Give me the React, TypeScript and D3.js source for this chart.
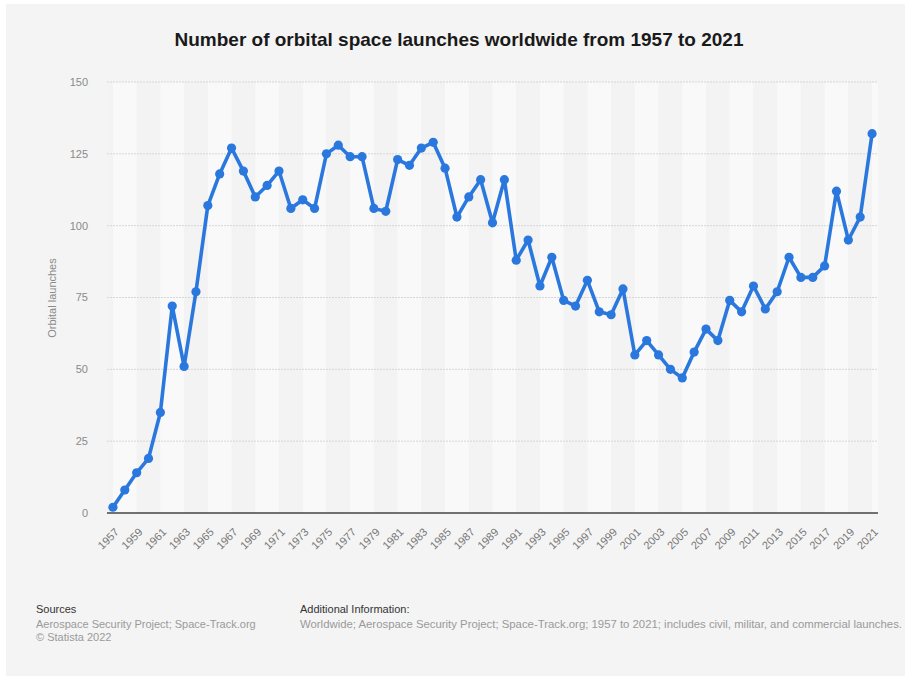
import React from "react";
import * as d3 from "d3";

const years: number[] = [
  1957, 1958, 1959, 1960, 1961, 1962, 1963, 1964, 1965, 1966, 1967, 1968, 1969, 1970,
  1971, 1972, 1973, 1974, 1975, 1976, 1977, 1978, 1979, 1980, 1981, 1982, 1983, 1984,
  1985, 1986, 1987, 1988, 1989, 1990, 1991, 1992, 1993, 1994, 1995, 1996, 1997, 1998,
  1999, 2000, 2001, 2002, 2003, 2004, 2005, 2006, 2007, 2008, 2009, 2010, 2011, 2012,
  2013, 2014, 2015, 2016, 2017, 2018, 2019, 2020, 2021,
];
const launches: number[] = [
  2, 8, 14, 19, 35, 72, 51, 77, 107, 118, 127, 119, 110, 114,
  119, 106, 109, 106, 125, 128, 124, 124, 106, 105, 123, 121, 127, 129,
  120, 103, 110, 116, 101, 116, 88, 95, 79, 89, 74, 72, 81, 70,
  69, 78, 55, 60, 55, 50, 47, 56, 64, 60, 74, 70, 79, 71,
  77, 89, 82, 82, 86, 112, 95, 103, 132,
];
const yTicks: number[] = [0, 25, 50, 75, 100, 125, 150];
const title = "Number of orbital space launches worldwide from 1957 to 2021";
const yLabel = "Orbital launches";
const sourcesTitle = "Sources";
const sourcesLines: string[] = ["Aerospace Security Project; Space-Track.org", "© Statista 2022"];
const addTitle = "Additional Information:";
const addText =
  "Worldwide; Aerospace Security Project; Space-Track.org; 1957 to 2021; includes civil, militar, and commercial launches.";

const W = 905;
const H = 677;
const left = 107;
const right = 878;
const top = 82;
const bottom = 513;
const FONT = "'Liberation Sans', Arial, Helvetica, sans-serif";

export default function App() {
  const x = d3.scaleBand<number>().domain(years).range([left, right]).paddingInner(0).paddingOuter(0);
  const cx = (yr: number) => (x(yr) as number) + x.bandwidth() / 2;
  const y = d3.scaleLinear().domain([0, 150]).range([bottom, top]);
  const line = d3
    .line<number>()
    .x((_, i) => cx(years[i]))
    .y((d) => y(d));

  const tickYears = years.filter((yr) => (yr - 1957) % 2 === 0);
  const stripes: { x0: number; x1: number; light: boolean }[] = [];
  stripes.push({ x0: left, x1: cx(years[0]), light: false });
  tickYears.forEach((yr, i) => {
    const x0 = cx(yr);
    const x1 = i + 1 < tickYears.length ? cx(tickYears[i + 1]) : right;
    stripes.push({ x0, x1, light: i % 2 === 0 });
  });

  return (
    <svg width={W} height={H} style={{ position: "absolute", left: 0, top: 0 }} fontFamily={FONT}>
      <rect x={0} y={0} width={W} height={H} fill="#ffffff" />
      <rect x={6} y={4} width={W - 6} height={672} fill="#f4f4f4" />
      {stripes.map((s, i) => (
        <rect key={i} x={s.x0} y={top} width={s.x1 - s.x0} height={bottom - top} fill={s.light ? "#f9f9f9" : "#f3f3f3"} />
      ))}
      {yTicks.map((t) => (
        <g key={t}>
          {t !== 0 && (
            <line x1={left} x2={right} y1={y(t)} y2={y(t)} stroke="#d6d6d6" strokeWidth={1} strokeDasharray="2,1" />
          )}
          <text x={88} y={y(t)} dy="0.35em" textAnchor="end" fontSize={11} fill="#8a8a8a">
            {t}
          </text>
        </g>
      ))}
      <line x1={left} x2={right} y1={bottom} y2={bottom} stroke="#444" strokeWidth={1.5} />
      <text
        transform={`translate(56,298) rotate(-90)`}
        textAnchor="middle"
        fontSize={11}
        fill="#8a8a8a"
      >
        {yLabel}
      </text>
      {tickYears.map((yr) => (
        <text
          key={yr}
          transform={`translate(${cx(yr) + 4},${bottom + 17}) rotate(-45)`}
          textAnchor="end"
          fontSize={11}
          fill="#777"
          dy="0.35em"
        >
          {yr}
        </text>
      ))}
      <path d={line(launches) || ""} fill="none" stroke="#2a78de" strokeWidth={3.6} strokeLinejoin="round" />
      {launches.map((v, i) => (
        <circle key={i} cx={cx(years[i])} cy={y(v)} r={4.6} fill="#2a78de" />
      ))}
      <text
        x={459}
        y={40}
        textAnchor="middle"
        fontSize={18.5}
        fontWeight="bold"
        fill="#1a1a1a"
        dy="0.35em"
        textLength={569}
        lengthAdjust="spacingAndGlyphs"
      >
        {title}
      </text>
      <text x={36} y={609} fontSize={11} fill="#333" dy="0.35em">
        {sourcesTitle}
      </text>
      {sourcesLines.map((s, i) => (
        <text key={i} x={36} y={624 + i * 13} fontSize={11} fill="#9a9a9a" dy="0.35em">
          {s}
        </text>
      ))}
      <text x={300} y={609} fontSize={11} fill="#333" dy="0.35em">
        {addTitle}
      </text>
      <text x={300} y={624} fontSize={11} fill="#9a9a9a" dy="0.35em" textLength={602} lengthAdjust="spacingAndGlyphs">
        {addText}
      </text>
    </svg>
  );
}
